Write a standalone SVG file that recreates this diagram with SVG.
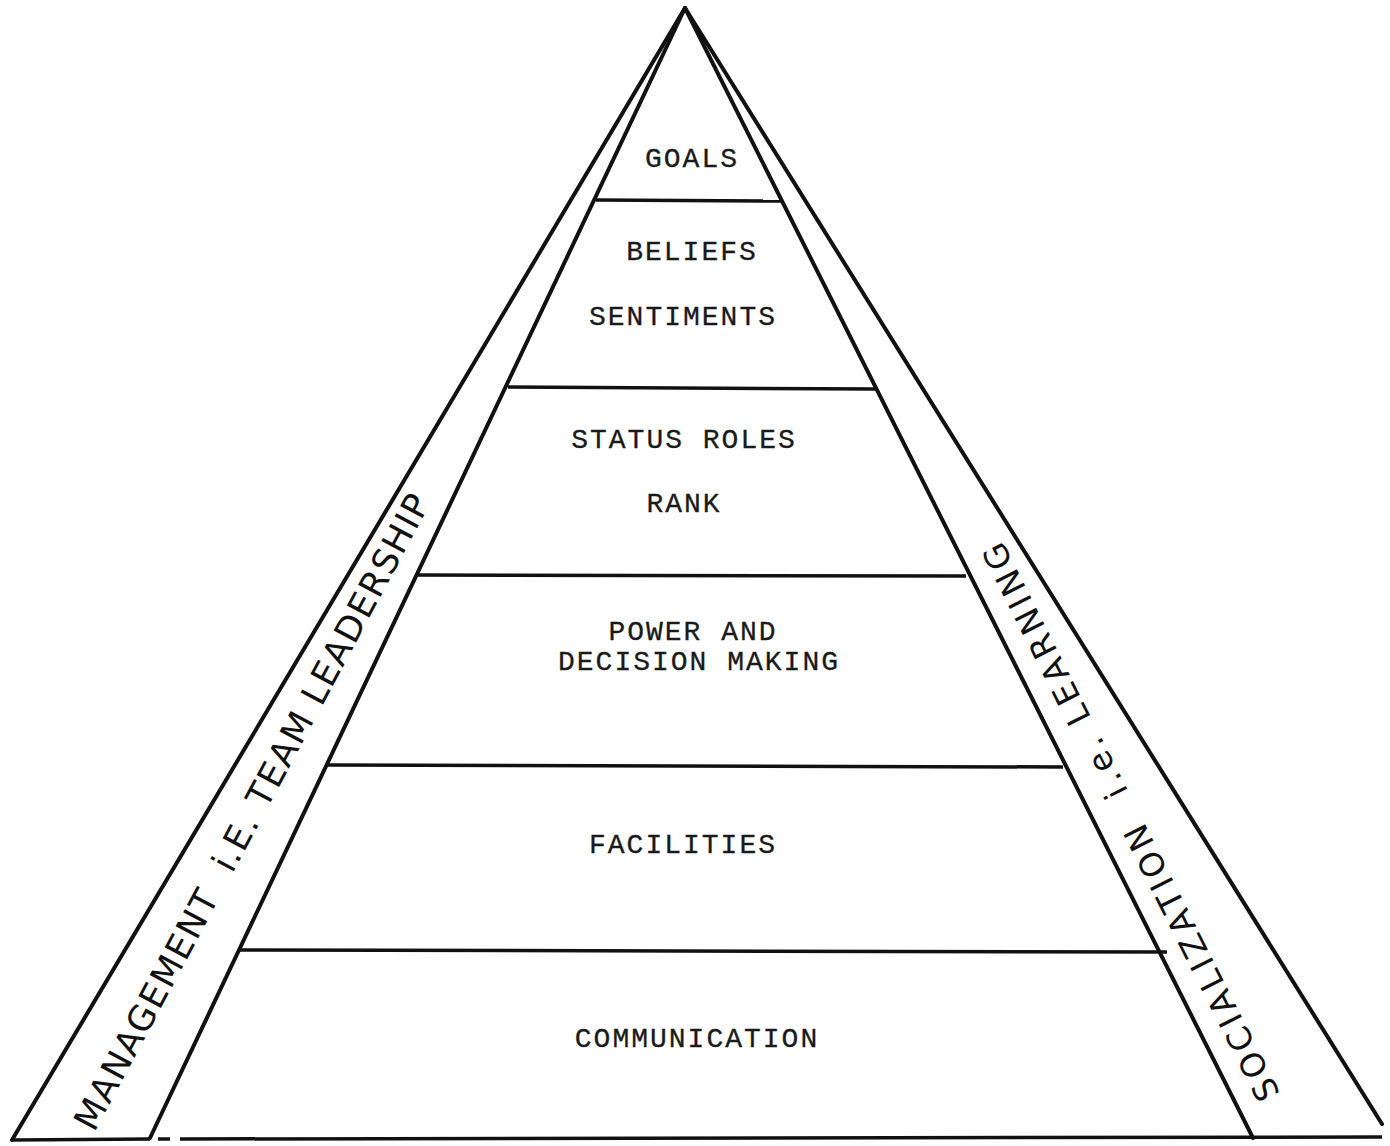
<svg xmlns="http://www.w3.org/2000/svg" width="1390" height="1146" viewBox="0 0 1390 1146">
<style>
.ln{stroke:#111;stroke-width:4;fill:none;stroke-linecap:round}
.hl{stroke:#111;stroke-width:3.5;fill:none}
.tt{font-family:"Liberation Mono","DejaVu Sans Mono",monospace;font-size:28px;letter-spacing:2px;fill:#1a1a1a;stroke:#1a1a1a;stroke-width:0.3;text-anchor:middle}
.hw{font-family:"DejaVu Sans","Liberation Sans",sans-serif;fill:#111;text-anchor:middle;dominant-baseline:central}
</style>
<rect width="1390" height="1146" fill="#fff"/>
<g id="connectors">
<line class="ln" x1="685" y1="8" x2="12" y2="1140"/>
<line class="ln" x1="685" y1="8" x2="150" y2="1138"/>
<line class="ln" x1="685" y1="8" x2="1382" y2="1124"/>
<line class="ln" x1="685" y1="8" x2="1253" y2="1138"/>
<line class="hl" x1="12" y1="1140" x2="150" y2="1139"/>
<line class="hl" x1="158" y1="1139" x2="170" y2="1139"/>
<line class="hl" x1="180" y1="1139" x2="1382" y2="1137"/>
<line class="hl" x1="596" y1="200" x2="782" y2="201"/>
<line class="hl" x1="508" y1="387" x2="876" y2="389"/>
<line class="hl" x1="417" y1="575" x2="966" y2="576"/>
<line class="hl" x1="327" y1="765" x2="1063" y2="767"/>
<line class="hl" x1="238" y1="950" x2="1167" y2="952"/>
</g>
<g id="goals"><text class="tt" x="692" y="167">GOALS</text></g>
<g id="beliefs"><text class="tt" x="692" y="260">BELIEFS</text><text class="tt" x="683" y="325">SENTIMENTS</text></g>
<g id="status"><text class="tt" x="684" y="448">STATUS ROLES</text><text class="tt" x="684" y="512">RANK</text></g>
<g id="power"><text class="tt" x="693" y="640">POWER AND</text><text class="tt" x="699" y="670">DECISION MAKING</text></g>
<g id="facilities"><text class="tt" x="683" y="853">FACILITIES</text></g>
<g id="communication"><text class="tt" x="697" y="1047">COMMUNICATION</text></g>
<g id="management"><text class="hw" xml:space="preserve" font-size="35" transform="translate(252,812) rotate(-61.9)" textLength="715" lengthAdjust="spacing">MANAGEMENT  i.E. TEAM LEADERSHIP</text></g>
<g id="socialization"><text class="hw" xml:space="preserve" font-size="33" transform="translate(1131,822) rotate(-116.7)" textLength="620" lengthAdjust="spacing">SOCIALIZATION  i.e. LEARNING</text></g>
</svg>
